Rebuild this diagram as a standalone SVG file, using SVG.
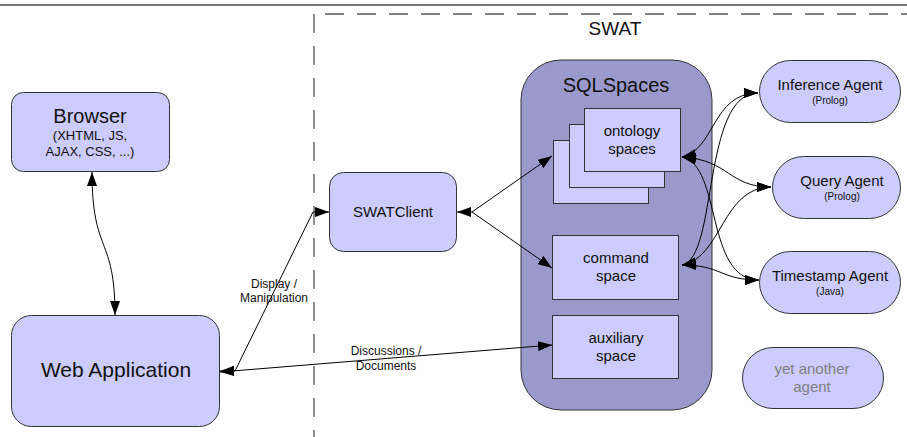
<svg xmlns="http://www.w3.org/2000/svg" width="907" height="437" viewBox="0 0 907 437">
  <style>
    text { font-family: "Liberation Sans", Arial, sans-serif; fill: #111; text-anchor: middle; }
    .node { fill: #ccccff; stroke: #333; stroke-width: 1; }
    .container { fill: #9999cc; stroke: #333; stroke-width: 1; }
    .edge { fill: none; stroke: #000; stroke-width: 1; marker-start: url(#arrow); marker-end: url(#arrow); }
    .edge-end { fill: none; stroke: #000; stroke-width: 1; marker-end: url(#arrow); }
    .boundary { fill: none; stroke: #555; stroke-width: 1.3; stroke-dasharray: 19 13; }
    .big { font-size: 20px; }
    .mid { font-size: 15px; }
    .small { font-size: 13px; }
    .tiny { font-size: 10px; }
    .label { font-size: 12px; }
  </style>
  <defs>
    <marker id="arrow" viewBox="0 0 14 10" refX="14" refY="5" markerWidth="14" markerHeight="10" markerUnits="userSpaceOnUse" orient="auto-start-reverse">
      <path d="M0,0 L14,5 L0,10 Z" fill="#000"/>
    </marker>
  </defs>

  <!-- page frame and SWAT boundary -->
  <line x1="0" y1="5" x2="907" y2="5" stroke="#777" stroke-width="2"/>
  <path class="boundary" d="M325,14 H907"/>
  <path class="boundary" d="M314,14 V437"/>
  <text x="615" y="35" style="font-size:19px">SWAT</text>

  <!-- SQLSpaces container -->
  <g id="sqlspaces">
    <rect class="container" x="521" y="60" width="191" height="350" rx="40" ry="40"/>
    <text class="big" x="616" y="92">SQLSpaces</text>
  </g>

  <g id="browser">
    <rect class="node" x="11.5" y="92.5" width="158" height="79" rx="12" ry="12"/>
    <text class="big" x="90" y="123">Browser</text>
    <text class="small" x="90" y="140">(XHTML, JS,</text>
    <text class="small" x="90" y="156">AJAX, CSS, ...)</text>
  </g>

  <g id="web-application">
    <rect class="node" x="11.5" y="315.5" width="208" height="111" rx="20" ry="20"/>
    <text x="116" y="377" style="font-size:21px">Web Application</text>
  </g>

  <g id="swatclient">
    <rect class="node" x="329.5" y="172.5" width="127" height="79" rx="14" ry="14"/>
    <text class="mid" x="393" y="217">SWATClient</text>
  </g>

  <g id="ontology-spaces">
    <rect class="node" x="553.5" y="140.5" width="95" height="63"/>
    <rect class="node" x="569.5" y="124.5" width="95" height="63"/>
    <rect class="node" x="584.5" y="108.5" width="96" height="63"/>
    <text class="mid" x="632" y="136">ontology</text>
    <text class="mid" x="632" y="154">spaces</text>
  </g>

  <g id="command-space">
    <rect class="node" x="552.5" y="235.5" width="126" height="64"/>
    <text class="mid" x="616" y="263">command</text>
    <text class="mid" x="616" y="281">space</text>
  </g>

  <g id="auxiliary-space">
    <rect class="node" x="552.5" y="315.5" width="126" height="63"/>
    <text class="mid" x="616" y="343">auxiliary</text>
    <text class="mid" x="616" y="361">space</text>
  </g>

  <g id="inference-agent">
    <rect class="node" x="759.5" y="60.5" width="141" height="62" rx="31" ry="31"/>
    <text class="mid" x="830" y="90">Inference Agent</text>
    <text class="tiny" x="830" y="104">(Prolog)</text>
  </g>

  <g id="query-agent">
    <rect class="node" x="772.5" y="156.5" width="128" height="62" rx="31" ry="31"/>
    <text class="mid" x="842" y="186">Query Agent</text>
    <text class="tiny" x="842" y="200">(Prolog)</text>
  </g>

  <g id="timestamp-agent">
    <rect class="node" x="759.5" y="251.5" width="141" height="62" rx="31" ry="31"/>
    <text class="mid" x="830" y="281">Timestamp Agent</text>
    <text class="tiny" x="830" y="295">(Java)</text>
  </g>

  <g id="yet-another-agent">
    <rect class="node" x="742.5" y="347.5" width="141" height="61" rx="30.5" ry="30.5"/>
    <text class="mid" x="812" y="374" style="fill:#808080">yet another</text>
    <text class="mid" x="812" y="392" style="fill:#808080">agent</text>
  </g>

  <!-- connectors -->
  <g id="connectors">
    <path class="edge" d="M92,172 C92,255 115,235 115,315"/>
    <path class="edge" d="M220,371 L235,371 L313,212 L329,212"/>
    <path class="edge" d="M220,372 L552,345"/>
    <path class="edge" d="M457,212 L472,212 L552,156"/>
    <path class="edge-end" d="M472,212 L552,268"/>

    <path class="edge" d="M682,157 C715,150 712,93 758,93"/>
    <path class="edge" d="M682,157 C730,160 728,187 771,187"/>
    <path class="edge" d="M682,157 C722,165 705,280 759,280"/>
    <path class="edge" d="M682,265 C718,258 702,93 758,93"/>
    <path class="edge" d="M682,265 C722,258 722,187 771,187"/>
    <path class="edge" d="M682,265 C722,265 720,280 759,280"/>

    <text class="label" x="274" y="288">Display /</text>
    <text class="label" x="274" y="302">Manipulation</text>
    <text class="label" x="386" y="355">Discussions /</text>
    <text class="label" x="386" y="370">Documents</text>
  </g>
</svg>
